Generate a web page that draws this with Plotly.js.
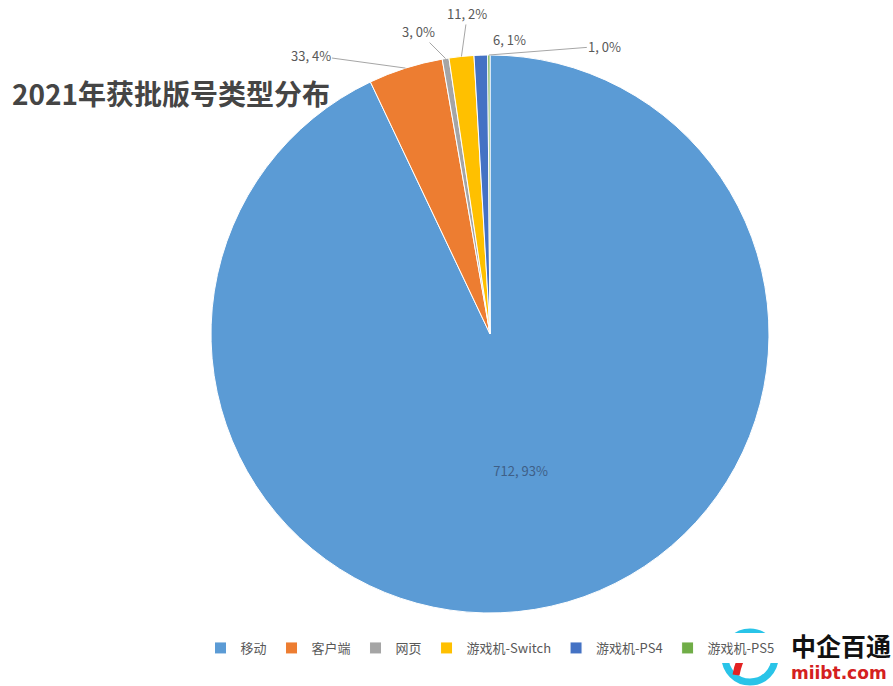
<!DOCTYPE html>
<html>
<head>
<meta charset="utf-8">
<script src="https://cdn.plot.ly/plotly-3.0.1.min.js"></script>
<style>html,body{margin:0;padding:0;background:#fff;}#chart{width:893px;height:686px;}</style>
</head>
<body>
<div id="chart"></div>
<script>
// Data
const categories = ['移动', '客户端', '网页', '游戏机-Switch', '游戏机-PS4', '游戏机-PS5'];
const counts = [712, 33, 3, 11, 6, 1];
const pctLabels = ['93%', '4%', '0%', '2%', '1%', '0%'];
const colors = ['#5B9BD5', '#ED7D31', '#A5A5A5', '#FFC000', '#4472C4', '#70AD47'];
const chartTitle = '2021年获批版号类型分布';

// label offsets (pixels) for the outside labels, index-aligned; null = inside label
const labelOffsets = [null, [-95, -13, true], [-27, -27, true], [6, -43, true], [29, -16, false], [116, -9, true]];

const W = 893, H = 686;
const cx = 490, cy = 334, R = 279;
const domX = [(cx - R) / W, (cx + R) / W];
const domY = [1 - (cy + R) / H, 1 - (cy - R) / H];

const total = counts.reduce((a, b) => a + b, 0);
const labelText = counts.map((v, i) => v + ', ' + pctLabels[i]);

const annotations = [];
let cum = 0;
counts.forEach((v, i) => {
  const mid = (cum + v / 2) / total * 2 * Math.PI;
  cum += v;
  const off = labelOffsets[i];
  if (!off) return;
  const px = (cx + R * Math.sin(mid)) / W;
  const py = 1 - (cy - R * Math.cos(mid)) / H;
  const a = {
    xref: 'paper', yref: 'paper', x: px, y: py,
    text: labelText[i],
    font: {family: 'Noto Sans CJK SC, sans-serif', size: 13, color: '#595959'}
  };
  if (off[2]) {
    Object.assign(a, {showarrow: true, arrowhead: 0, arrowwidth: 1, arrowcolor: '#A6A6A6', ax: off[0], ay: off[1], standoff: 0});
  } else {
    Object.assign(a, {showarrow: false, xanchor: 'center', yanchor: 'middle', xshift: off[0], yshift: -off[1]});
  }
  annotations.push(a);
});

// watermark
annotations.push({xref: 'paper', yref: 'paper', x: 789 / W, y: 1 - 645 / H, xanchor: 'left', yanchor: 'middle', showarrow: false,
  text: '<b>中企百通</b>', font: {family: 'Noto Sans CJK SC, sans-serif', size: 25, color: '#111'}});
annotations.push({xref: 'paper', yref: 'paper', x: 789 / W, y: 1 - 673 / H, xanchor: 'left', yanchor: 'middle', showarrow: false,
  text: '<b>miibt.com</b>', font: {family: 'DejaVu Sans, sans-serif', size: 17, color: '#D42020'}});

const data = [{
  type: 'pie',
  labels: categories,
  values: counts,
  text: labelText.map((t, i) => labelOffsets[i] ? '' : t),
  textinfo: 'text',
  textposition: 'inside',
  insidetextorientation: 'horizontal',
  textfont: {family: 'Noto Sans CJK SC, sans-serif', size: 13, color: '#3F5F87'},
  hoverinfo: 'label+value+percent',
  sort: false,
  direction: 'clockwise',
  rotation: 0,
  marker: {colors: colors, line: {color: '#ffffff', width: 1}},
  domain: {x: domX, y: domY}
}];

const layout = {
  width: W, height: H,
  margin: {l: 0, r: 0, t: 0, b: 0},
  paper_bgcolor: '#ffffff',
  showlegend: true,
  title: {
    text: '<b>' + chartTitle + '</b>',
    xref: 'paper', yref: 'paper', x: 12 / W, xanchor: 'left', y: 1 - 95 / H, yanchor: 'middle',
    font: {family: 'Noto Sans CJK SC, sans-serif', size: 28, color: '#454545'}
  },
  legend: {
    orientation: 'h', x: 490 / W, xanchor: 'center', y: 1 - 648 / H, yanchor: 'middle',
    font: {family: 'Noto Sans CJK SC, sans-serif', size: 13, color: '#595959'},
    itemwidth: 30, tracegroupgap: 0
  },
  annotations: annotations,
  shapes: [
    {type: 'circle', xref: 'paper', yref: 'paper', x0: 725 / W, x1: 775 / W, y0: 1 - 682 / H, y1: 1 - 632 / H,
     line: {color: '#29C4E8', width: 7}, fillcolor: 'rgba(255,255,255,0.85)'},
    {type: 'path', xref: 'paper', yref: 'paper',
     path: 'M ' + (736 / W) + ' ' + (1 - 675 / H) + ' Q ' + (742 / W) + ' ' + (1 - 641 / H) + ' ' + (771 / W) + ' ' + (1 - 640 / H),
     line: {color: '#E32222', width: 7}}
  ]
};

Plotly.newPlot('chart', data, layout, {displayModeBar: false, staticPlot: true});
</script>
</body>
</html>
